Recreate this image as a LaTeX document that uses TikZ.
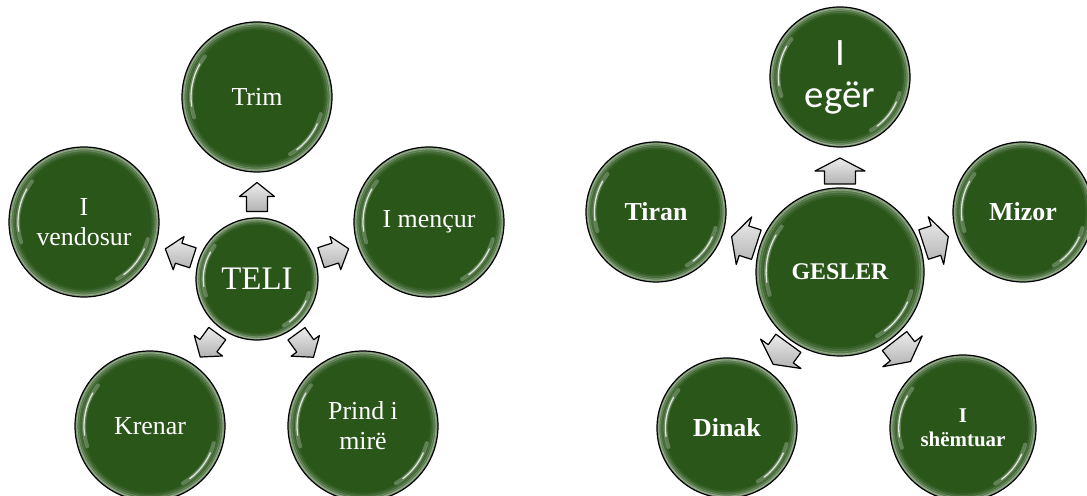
\documentclass[tikz,border=0pt]{standalone}
\usepackage{fontspec}
\setmainfont{Liberation Serif}
\newfontfamily\carlito{Carlito}
\usetikzlibrary{calc}
\definecolor{ballgreen}{RGB}{42,86,26}
\tikzset{
  ball/.style={circle, draw=black, line width=1.2pt, minimum size=#1, inner sep=0pt,
    text=white, align=center, fill=ballgreen,
    path picture={
      \foreach \f/\o in {0.985/0.4,0.96/0.22,0.935/0.12,0.91/0.05}{
        \draw[white, opacity=\o, line width=2.6pt]
          let \p1=($(path picture bounding box.east)-(path picture bounding box.center)$), \n1={\x1} in
          (path picture bounding box.center) circle[radius={\f*\n1}];
      }
      \draw[white, opacity=0.25, line width=4pt, line cap=round]
        let \p1=($(path picture bounding box.east)-(path picture bounding box.center)$), \n1={\x1} in
        (path picture bounding box.center) ++(142:{0.88*\n1}) arc[start angle=142, end angle=198, radius={0.88*\n1}]
        (path picture bounding box.center) ++(300:{0.88*\n1}) arc[start angle=300, end angle=345, radius={0.88*\n1}];
      \draw[white, opacity=0.8, line width=1.3pt, line cap=round]
        let \p1=($(path picture bounding box.east)-(path picture bounding box.center)$), \n1={\x1} in
        (path picture bounding box.center) ++(150:{0.88*\n1}) arc[start angle=150, end angle=188, radius={0.88*\n1}]
        (path picture bounding box.center) ++(307:{0.88*\n1}) arc[start angle=307, end angle=336, radius={0.88*\n1}];
    }},
  lefttext/.style={font=\fontsize{26}{30}\selectfont},
  righttext/.style={font=\bfseries\fontsize{26}{30}\selectfont},
  arrowstyle/.style={draw=black, line width=1.2pt, line join=round, top color=gray!15, bottom color=gray!60},
  smallarrow/.pic={
    \path[arrowstyle] (-14.5,-10.5) -- (0.5,-10.5) -- (0.5,-17.5) -- (14.5,0) -- (0.5,17.5) -- (0.5,10.5) -- (-14.5,10.5) -- cycle;
  },
  bigarrow/.pic={
    \path[arrowstyle] (-13,-15.5) -- (0,-15.5) -- (0,-25) -- (13,0) -- (0,25) -- (0,15.5) -- (-13,15.5) -- cycle;
  }
}
\begin{document}
\begin{tikzpicture}[x=1bp,y=1bp]
\useasboundingbox (0,0) rectangle (1087,496);
% left diagram
\node[ball=122bp, font=\fontsize{33}{36}\selectfont] (teli) at (257,217) {TELI};
\node[ball=150bp, lefttext] (trim) at (257,399) {Trim};
\node[ball=150bp, lefttext] (mencur) at (429,274) {I mençur};
\node[ball=150bp, lefttext] (vendosur) at (84,274) {I\\vendosur};
\node[ball=150bp, lefttext] (krenar) at (150,70) {Krenar};
\node[ball=150bp, lefttext] (prind) at (363,70) {Prind i\\mirë};
\pic[rotate=90] (a1) at ($(teli)!82bp!(trim)$) {smallarrow};
\pic[rotate=18] (a2) at ($(teli)!82bp!(mencur)$) {smallarrow};
\pic[rotate=162] (a3) at ($(teli)!82bp!(vendosur)$) {smallarrow};
\pic[rotate=234] (a4) at ($(teli)!82bp!(krenar)$) {smallarrow};
\pic[rotate=306] (a5) at ($(teli)!82bp!(prind)$) {smallarrow};
% right diagram
\node[ball=168bp, font=\bfseries\fontsize{24}{28}\selectfont] (gesler) at (840,224) {GESLER};
\node[ball=140bp, font=\carlito\fontsize{39}{42}\selectfont] (eger) at (840,419) {I\\egër};
\node[ball=140bp, righttext] (tiran) at (656,284) {Tiran};
\node[ball=140bp, righttext] (mizor) at (1023,284) {Mizor};
\node[ball=140bp, righttext] (dinak) at (727,68) {Dinak};
\node[ball=146bp, font=\bfseries\fontsize{21}{24}\selectfont] (shemtuar) at (963,68) {I\\shëmtuar};
\pic[rotate=90] (b1) at ($(gesler)!101bp!(eger)$) {bigarrow};
\pic[rotate=18] (b2) at ($(gesler)!101bp!(mizor)$) {bigarrow};
\pic[rotate=162] (b3) at ($(gesler)!101bp!(tiran)$) {bigarrow};
\pic[rotate=234] (b4) at ($(gesler)!101bp!(dinak)$) {bigarrow};
\pic[rotate=308] (b5) at ($(gesler)!101bp!(shemtuar)$) {bigarrow};
\end{tikzpicture}
\end{document}
